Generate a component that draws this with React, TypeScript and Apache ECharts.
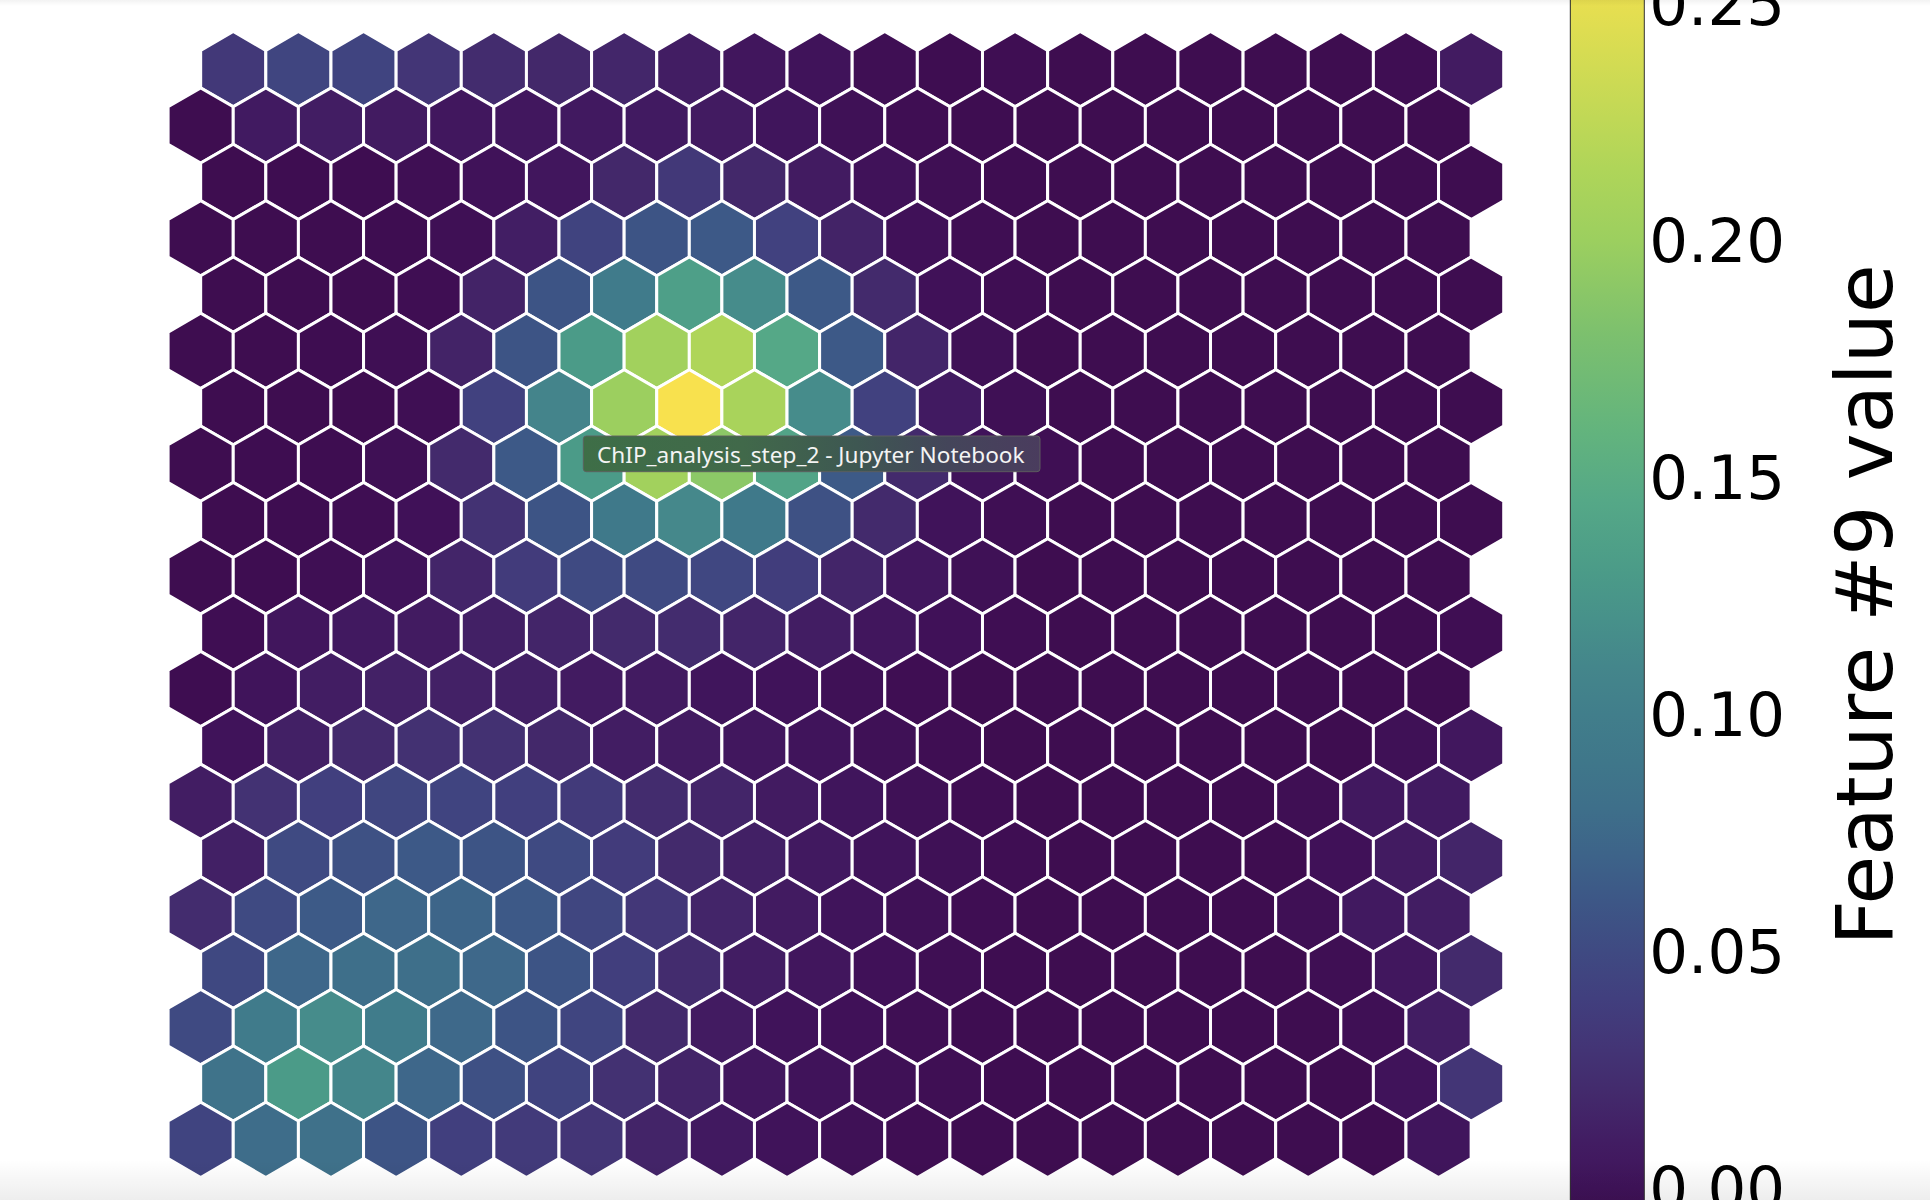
import React, { useEffect, useRef } from "react";
import * as echarts from "echarts";

// ---- data: feature #9 value of each SOM node, rows from top (row00) to bottom (row19)
const row00 = [0.033, 0.045, 0.044, 0.03, 0.022, 0.018, 0.017, 0.01, 0.003, 0.0, -0.005, -0.007, -0.006, -0.008, -0.008, -0.008, -0.008, -0.008, -0.006, 0.008];
const row01 = [-0.008, 0.007, 0.01, 0.008, 0.004, 0.004, 0.006, 0.007, 0.008, 0.002, -0.003, -0.006, -0.007, -0.008, -0.008, -0.008, -0.008, -0.008, -0.008, -0.008];
const row02 = [-0.008, -0.007, -0.007, -0.005, -0.001, 0.003, 0.018, 0.033, 0.018, 0.008, -0.001, -0.005, -0.007, -0.008, -0.008, -0.008, -0.008, -0.008, -0.008, -0.008];
const row03 = [-0.008, -0.008, -0.008, -0.007, -0.004, 0.011, 0.043, 0.058, 0.062, 0.042, 0.014, -0.002, -0.006, -0.008, -0.008, -0.008, -0.008, -0.008, -0.008, -0.008];
const row04 = [-0.008, -0.008, -0.008, -0.006, 0.014, 0.058, 0.095, 0.135, 0.115, 0.062, 0.02, -0.002, -0.006, -0.008, -0.008, -0.008, -0.008, -0.008, -0.008, -0.008];
const row05 = [-0.008, -0.008, -0.007, -0.005, 0.014, 0.058, 0.13, 0.205, 0.215, 0.145, 0.062, 0.016, -0.003, -0.008, -0.008, -0.008, -0.008, -0.008, -0.008, -0.008];
const row06 = [-0.008, -0.008, -0.008, -0.005, 0.042, 0.108, 0.2, 0.26, 0.21, 0.115, 0.042, 0.007, -0.004, -0.008, -0.008, -0.008, -0.008, -0.008, -0.008, -0.008];
const row07 = [-0.008, -0.007, -0.007, -0.004, 0.02, 0.062, 0.13, 0.205, 0.19, 0.14, 0.063, 0.02, 0.0, -0.005, -0.008, -0.008, -0.008, -0.008, -0.008, -0.008];
const row08 = [-0.008, -0.007, -0.006, -0.002, 0.027, 0.058, 0.092, 0.112, 0.092, 0.056, 0.02, 0.0, -0.005, -0.008, -0.008, -0.008, -0.008, -0.008, -0.008, -0.008];
const row09 = [-0.008, -0.007, -0.005, 0.0, 0.016, 0.036, 0.05, 0.05, 0.047, 0.038, 0.016, 0.004, -0.003, -0.008, -0.008, -0.008, -0.008, -0.008, -0.008, -0.008];
const row10 = [-0.006, 0.003, 0.006, 0.008, 0.012, 0.016, 0.02, 0.022, 0.016, 0.01, 0.003, -0.002, -0.006, -0.008, -0.008, -0.008, -0.008, -0.008, -0.008, -0.006];
const row11 = [-0.007, 0.001, 0.01, 0.013, 0.013, 0.012, 0.008, 0.008, 0.002, 0.0, -0.003, -0.006, -0.008, -0.008, -0.008, -0.008, -0.008, -0.008, -0.008, -0.008];
const row12 = [0.0, 0.012, 0.02, 0.026, 0.026, 0.018, 0.01, 0.008, 0.004, 0.001, -0.003, -0.006, -0.008, -0.008, -0.008, -0.008, -0.008, -0.008, -0.003, 0.004];
const row13 = [0.01, 0.027, 0.04, 0.046, 0.044, 0.04, 0.035, 0.022, 0.016, 0.008, 0.002, -0.003, -0.006, -0.008, -0.008, -0.008, -0.008, -0.005, 0.005, 0.007];
const row14 = [0.012, 0.05, 0.056, 0.062, 0.058, 0.05, 0.036, 0.02, 0.012, 0.006, 0.001, -0.003, -0.006, -0.008, -0.008, -0.008, -0.008, -0.002, 0.008, 0.016];
const row15 = [0.022, 0.05, 0.063, 0.073, 0.072, 0.062, 0.046, 0.032, 0.016, 0.008, 0.001, -0.003, -0.006, -0.008, -0.008, -0.008, -0.008, -0.004, 0.006, 0.01];
const row16 = [0.048, 0.073, 0.08, 0.08, 0.074, 0.058, 0.039, 0.022, 0.01, 0.003, -0.002, -0.005, -0.007, -0.008, -0.008, -0.008, -0.008, -0.005, 0.004, 0.02];
const row17 = [0.05, 0.095, 0.115, 0.096, 0.075, 0.058, 0.045, 0.02, 0.008, 0.0, -0.002, -0.005, -0.007, -0.008, -0.008, -0.008, -0.008, -0.008, -0.004, 0.01];
const row18 = [0.085, 0.13, 0.11, 0.073, 0.055, 0.043, 0.026, 0.015, 0.004, 0.0, -0.003, -0.005, -0.007, -0.008, -0.008, -0.008, -0.008, -0.008, 0.0, 0.03];
const row19 = [0.044, 0.078, 0.083, 0.058, 0.04, 0.035, 0.03, 0.015, 0.006, 0.0, -0.003, -0.006, -0.007, -0.008, -0.008, -0.008, -0.008, -0.008, -0.008, 0.002];

const HEX_ROWS = [row00, row01, row02, row03, row04, row05, row06, row07, row08, row09,
  row10, row11, row12, row13, row14, row15, row16, row17, row18, row19];

const VALUE_MIN = -0.01;
const VALUE_MAX = 0.26;
const COLORBAR_TICKS = [0, 0.05, 0.1, 0.15, 0.2, 0.25];
const COLORBAR_LABEL = "Feature #9 value";
const WINDOW_TIP = "ChIP_analysis_step_2 - Jupyter Notebook";

// viridis-like palette as it appears on screen: [value, colour]
const COLOR_STOPS: [number, string][] = [
  [-0.01, "#3d0b4d"], [0.0, "#40135a"], [0.01, "#421d63"], [0.02, "#432a6c"],
  [0.03, "#433576"], [0.04, "#413f7e"], [0.05, "#3f4a82"], [0.06, "#3d5686"],
  [0.07, "#3d6389"], [0.08, "#3e6f8a"], [0.09, "#3f778a"], [0.1, "#417e8b"],
  [0.11, "#44868b"], [0.12, "#47918a"], [0.13, "#4b9b88"], [0.145, "#55a887"],
  [0.16, "#63b47d"], [0.18, "#7cc06e"], [0.2, "#9ccf5f"], [0.215, "#afd559"],
  [0.24, "#d7dc52"], [0.26, "#f8e14e"],
];

function hexToRgb(h: string) {
  const n = parseInt(h.slice(1), 16);
  return [(n >> 16) & 255, (n >> 8) & 255, n & 255];
}
function colorAt(v: number) {
  if (v <= COLOR_STOPS[0][0]) return COLOR_STOPS[0][1];
  for (let i = 1; i < COLOR_STOPS.length; i++) {
    const [v1, c1] = COLOR_STOPS[i];
    const [v0, c0] = COLOR_STOPS[i - 1];
    if (v <= v1) {
      const t = (v - v0) / (v1 - v0);
      const a = hexToRgb(c0), b = hexToRgb(c1);
      const m = a.map((x, k) => Math.round(x + (b[k] - x) * t));
      return `rgb(${m[0]},${m[1]},${m[2]})`;
    }
  }
  return COLOR_STOPS[COLOR_STOPS.length - 1][1];
}
const PALETTE: string[] = [];
for (let i = 0; i <= 54; i++) PALETTE.push(colorAt(VALUE_MIN + (i * (VALUE_MAX - VALUE_MIN)) / 54));

const OFF = 60; // chart container is shifted up by this many px

export default function App() {
  const ref = useRef<HTMLDivElement>(null);
  useEffect(() => {
    if (!ref.current) return;
    const chart = echarts.init(ref.current, null, { renderer: "svg" });

    const hexData: number[][] = [];
    HEX_ROWS.forEach((row, r) =>
      row.forEach((v, c) => hexData.push([c + (r % 2 === 0 ? 0.5 : 0), r, v]))
    );

    const barStops = COLOR_STOPS.map(([v, c]) => ({
      offset: (v - VALUE_MIN) / (VALUE_MAX - VALUE_MIN),
      color: c,
    }));

    const option: any = {
      animation: false,
      backgroundColor: "#ffffff",
      grid: [
        { left: 168.1, top: 41.0 + OFF, width: 1335.6, height: 1127 },
        { left: 1570.3, top: -44.4 + OFF, width: 74, height: 1279.8 },
      ],
      xAxis: [
        { gridIndex: 0, type: "value", min: -0.5, max: 20, show: false },
        { gridIndex: 1, type: "value", min: 0, max: 1, show: false },
      ],
      yAxis: [
        { gridIndex: 0, type: "value", min: -0.5, max: 19.5, inverse: true, show: false },
        {
          gridIndex: 1,
          type: "value",
          min: VALUE_MIN,
          max: VALUE_MAX,
          position: "right",
          axisLine: { show: true, lineStyle: { color: "#444", width: 1 } },
          axisTick: { show: true, length: 4, customValues: COLORBAR_TICKS, lineStyle: { color: "#333", width: 1 } },
          axisLabel: {
            show: true,
            margin: 5,
            customValues: COLORBAR_TICKS,
            formatter: (v: number) => v.toFixed(2),
            fontFamily: "DejaVu Sans",
            fontSize: 61,
            color: "#000",
          },
          splitLine: { show: false },
        },
      ],
      visualMap: {
        show: false,
        type: "continuous",
        min: VALUE_MIN,
        max: VALUE_MAX,
        dimension: 2,
        seriesIndex: 0,
        inRange: { color: PALETTE },
      },
      series: [
        {
          type: "custom",
          xAxisIndex: 0,
          yAxisIndex: 0,
          data: hexData,
          encode: { x: 0, y: 1 },
          renderItem: (params: any, api: any) => {
            const p = api.coord([api.value(0), api.value(1)]);
            const w = api.size([1, 0])[0];
            const R = w / Math.sqrt(3);
            const pts: number[][] = [];
            for (let k = 0; k < 6; k++) {
              const a = (Math.PI / 180) * (-90 + 60 * k);
              pts.push([p[0] + R * Math.cos(a), p[1] + R * Math.sin(a)]);
            }
            return {
              type: "polygon",
              shape: { points: pts },
              style: { fill: api.visual("color"), stroke: "#ffffff", lineWidth: 3, lineJoin: "miter" },
            };
          },
        },
        {
          type: "custom",
          xAxisIndex: 1,
          yAxisIndex: 1,
          data: [[0, VALUE_MIN, VALUE_MAX]],
          encode: { x: 0, y: 1 },
          renderItem: (params: any, api: any) => {
            const top = api.coord([0, api.value(2)]);
            const bottom = api.coord([1, api.value(1)]);
            return {
              type: "rect",
              shape: { x: top[0], y: top[1], width: bottom[0] - top[0], height: bottom[1] - top[1] },
              style: {
                fill: { type: "linear", x: 0, y: 1, x2: 0, y2: 0, colorStops: barStops },
                stroke: "#333",
                lineWidth: 1,
              },
            };
          },
        },
      ],
      graphic: [
        {
          type: "text",
          x: 1865,
          y: 605 + OFF,
          rotation: Math.PI / 2,
          style: {
            text: COLORBAR_LABEL,
            fontFamily: "DejaVu Sans",
            fontSize: 79,
            fill: "#000",
            align: "center",
            verticalAlign: "middle",
            textAlign: "center",
            textVerticalAlign: "middle",
          },
        },
        {
          type: "rect",
          z: 100,
          shape: { x: 583.3, y: 436 + OFF, width: 456.7, height: 35.7, r: 3 },
          style: {
            fill: {
              type: "linear", x: 0, y: 0, x2: 1, y2: 0,
              colorStops: [
                { offset: 0, color: "#3e6e47" },
                { offset: 0.35, color: "#41694a" },
                { offset: 0.6, color: "#3e5752" },
                { offset: 0.8, color: "#44455a" },
                { offset: 1, color: "#4a3c5e" },
              ],
            },
            stroke: "rgba(95,95,95,0.9)",
            lineWidth: 1,
          },
        },
        {
          type: "text",
          z: 101,
          x: 597,
          y: 454 + OFF,
          style: {
            text: WINDOW_TIP,
            fontFamily: "Noto Sans",
            fontSize: 22.6,
            fill: "#f4f4f4",
            verticalAlign: "middle",
            textVerticalAlign: "middle",
          },
        },
        {
          type: "rect",
          z: 100,
          silent: true,
          shape: { x: 0, y: 1160 + OFF, width: 1930, height: 40 },
          style: {
            fill: {
              type: "linear", x: 0, y: 0, x2: 0, y2: 1,
              colorStops: [
                { offset: 0, color: "rgba(0,0,0,0)" },
                { offset: 1, color: "rgba(0,0,0,0.07)" },
              ],
            },
          },
        },
        {
          type: "rect",
          z: 100,
          silent: true,
          shape: { x: 0, y: OFF, width: 1930, height: 6 },
          style: {
            fill: {
              type: "linear", x: 0, y: 0, x2: 0, y2: 1,
              colorStops: [
                { offset: 0, color: "rgba(0,0,0,0.05)" },
                { offset: 1, color: "rgba(0,0,0,0)" },
              ],
            },
          },
        },
      ],
    };

    chart.setOption(option);
    return () => chart.dispose();
  }, []);

  return (
    <div
      ref={ref}
      style={{ position: "fixed", left: 0, top: -OFF, width: 1930, height: 1200 + 2 * OFF, background: "#fff" }}
    />
  );
}
